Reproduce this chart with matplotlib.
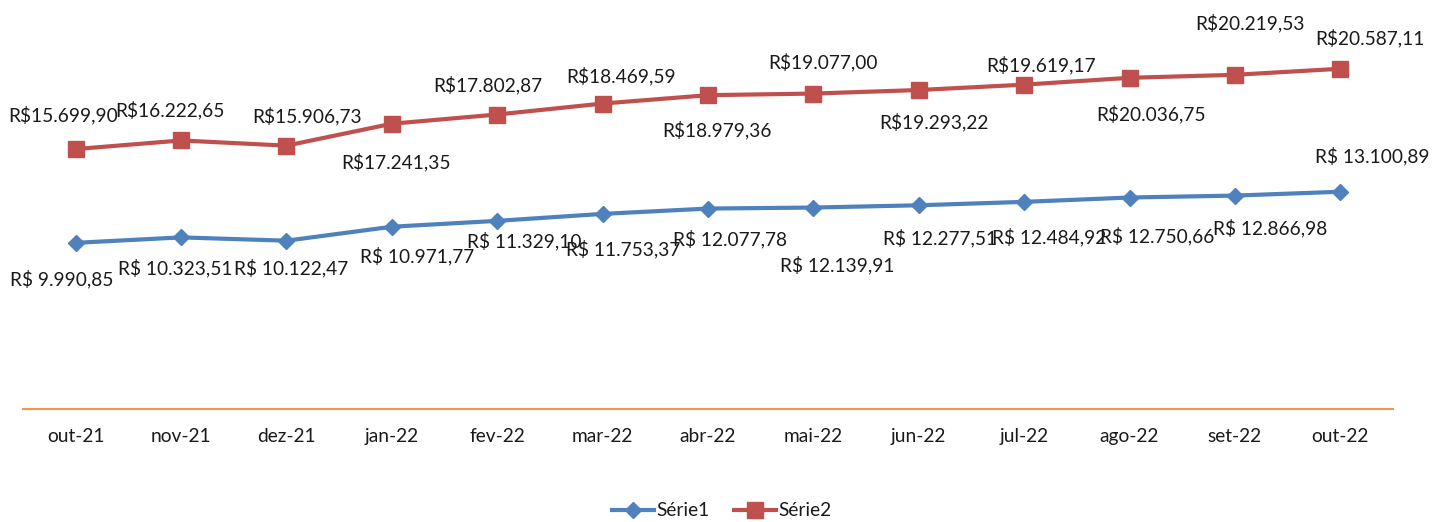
import matplotlib
matplotlib.use("Agg")
import matplotlib.pyplot as plt
from matplotlib.lines import Line2D

plt.rcParams['font.family'] = ['Lato', 'DejaVu Sans']

# ---- data ----
categories = ["out-21", "nov-21", "dez-21", "jan-22", "fev-22", "mar-22", "abr-22",
              "mai-22", "jun-22", "jul-22", "ago-22", "set-22", "out-22"]
serie1 = [9990.85, 10323.51, 10122.47, 10971.77, 11329.10, 11753.37, 12077.78,
          12139.91, 12277.51, 12484.92, 12750.66, 12866.98, 13100.89]
serie2 = [15699.90, 16222.65, 15906.73, 17241.35, 17802.87, 18469.59, 18979.36,
          19077.00, 19293.22, 19619.17, 20036.75, 20219.53, 20587.11]
series_names = ["Série1", "Série2"]

# label offsets in pixels (dx, dy up) from point to centre of digits
off1 = [(-14, -36), (-6, -30), (5, -27), (25, -29), (27, -20), (21, -34), (22, -30),
        (24, -57), (21, -32), (25, -35), (28, -38), (35, -32), (32, 36)]
off2 = [(-13, 35), (-11, 31), (21, 30), (4, -38), (-9, 30), (18, 28), (9, -34),
        (10, 32), (15, -31), (17, 20), (21, -36), (15, 52), (30, 31)]


def fmt1(v):
    s = f"{v:,.2f}".replace(",", "X").replace(".", ",").replace("X", ".")
    return "R$ " + s


def fmt2(v):
    s = f"{v:,.2f}".replace(",", "X").replace(".", ",").replace("X", ".")
    return "R$" + s


BLUE = "#4F81BD"
RED = "#C0504D"
ORANGE = "#F79646"
TXT = "#1a1a1a"
FS = 13.8

fig = plt.figure(figsize=(14.35, 5.22), dpi=100)
ax = fig.add_axes([23 / 1435, 113 / 522, (1393 - 23) / 1435, 409 / 522])

x = list(range(len(categories)))
ax.plot(x, serie1, color=BLUE, lw=3.0, marker="D", markersize=8, zorder=3)
ax.plot(x, serie2, color=RED, lw=3.0, marker="s", markersize=12, zorder=3)

for xi, v, (dx, dy) in zip(x, serie1, off1):
    ax.annotate(fmt1(v), (xi, v), xytext=(dx, dy - 7), textcoords="offset pixels",
                ha="center", va="baseline", fontsize=FS, color=TXT, zorder=4)
for xi, v, (dx, dy) in zip(x, serie2, off2):
    ax.annotate(fmt2(v), (xi, v), xytext=(dx, dy - 7), textcoords="offset pixels",
                ha="center", va="baseline", fontsize=FS, color=TXT, zorder=4)

ax.set_xlim(-0.5, len(categories) - 0.5)
ax.set_ylim(-122, 24772)
ax.set_xticks(x)
ax.set_xticklabels(categories, fontsize=FS, color=TXT)
ax.tick_params(axis="x", length=0, pad=14)
ax.set_yticks([])
for sp in ["top", "right", "left"]:
    ax.spines[sp].set_visible(False)
ax.spines["bottom"].set_color(ORANGE)
ax.spines["bottom"].set_linewidth(1.5)
ax.patch.set_visible(False)

handles = [Line2D([], [], color=BLUE, lw=3.0, marker="D", markersize=8),
           Line2D([], [], color=RED, lw=3.0, marker="s", markersize=12)]
fig.legend(handles, series_names, loc="center", bbox_to_anchor=(0.503, 11 / 522),
           ncol=2, frameon=False, fontsize=FS, handlelength=2.2, handletextpad=0.1,
           columnspacing=1.3, labelcolor=TXT)

fig.savefig("out.png", dpi=100)
